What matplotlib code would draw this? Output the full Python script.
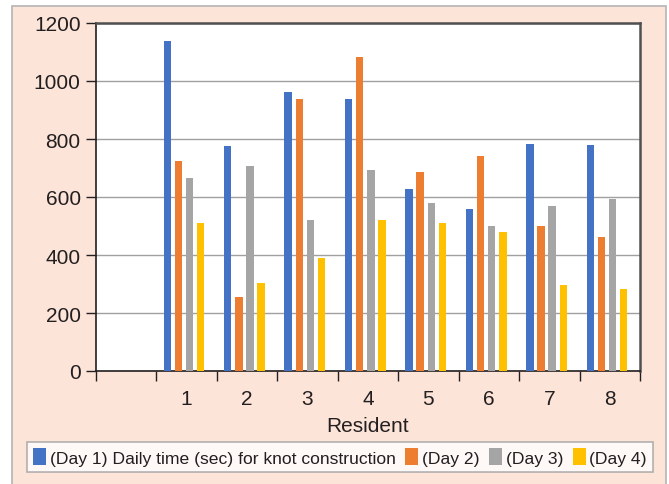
import numpy as np
import matplotlib.pyplot as plt
from matplotlib.patches import Rectangle

plt.rcParams['font.family'] = ['Liberation Sans', 'DejaVu Sans']

# data (first category is empty)
categories = ['', '1', '2', '3', '4', '5', '6', '7', '8']
day1 = [np.nan, 1137, 776, 961, 937, 626, 559, 784, 781]
day2 = [np.nan, 723, 254, 937, 1083, 687, 743, 500, 463]
day3 = [np.nan, 665, 707, 522, 693, 579, 500, 570, 593]
day4 = [np.nan, 510, 303, 390, 522, 510, 480, 298, 284]
labels = ['(Day 1) Daily time (sec) for knot construction', '(Day 2)', '(Day 3)', '(Day 4)']
colors = ['#4472C4', '#ED7D31', '#A5A5A5', '#FFC000']
yticks = [0, 200, 400, 600, 800, 1000, 1200]

fig = plt.figure(figsize=(6.69, 4.85), dpi=100)
fig.patch.set_facecolor('white')
# peach panel with grey border
fig.patches.append(Rectangle((12 / 669, -0.01), 654 / 669, 1 - 7 / 485 + 0.01,
                             transform=fig.transFigure, facecolor='#FCE4D8',
                             edgecolor='#B4B4B4', linewidth=1.2, zorder=-10))

ax = fig.add_axes([96 / 669, 113 / 485, 544 / 669, 348 / 485])
ax.set_facecolor('white')

x = np.arange(len(categories))
w = 0.124
step = 0.184
shift = -0.045
for i, (vals, c, lab) in enumerate(zip([day1, day2, day3, day4], colors, labels)):
    ax.bar(x + shift + (i - 1.5) * step, vals, width=w, color=c, label=lab,
           linewidth=0, zorder=3)

ax.set_xlim(-0.5, len(categories) - 0.5)
ax.set_ylim(0, 1200)
ax.set_yticks(yticks)
ax.grid(axis='y', color='#A0A0A0', linewidth=1.0, zorder=0)
ax.tick_params(axis='y', labelsize=15, length=7, width=1, pad=4, colors='#231F20')

# category boundaries as ticks, names in the middle
ax.set_xticks(np.arange(len(categories) + 1) - 0.5)
ax.set_xticklabels([])
ax.set_xticks(x, minor=True)
ax.set_xticklabels(categories, minor=True)
ax.tick_params(axis='x', which='major', length=7, width=1, color='#231F20')
ax.tick_params(axis='x', which='minor', length=0, labelsize=15, pad=13, labelcolor='#231F20')
ax.set_xlabel('Resident', fontsize=15, color='#231F20', labelpad=6)

for s in ['left', 'bottom']:
    ax.spines[s].set_color('#231F20')
    ax.spines[s].set_linewidth(1.2)
for s in ['top', 'right']:
    ax.spines[s].set_color('#505050')
    ax.spines[s].set_linewidth(1.8)

leg = fig.legend(loc='center', bbox_to_anchor=(340 / 669, 1 - 458 / 485), ncol=4,
                 fontsize=12.6, frameon=True, fancybox=False, handlelength=0.75,
                 handleheight=1.1, handletextpad=0.2, columnspacing=0.55,
                 borderpad=0.35, borderaxespad=0)
leg.get_frame().set_edgecolor('#A0A0A0')
leg.get_frame().set_linewidth(1.2)
for t in leg.get_texts():
    t.set_color('#231F20')

fig.savefig('out.png', dpi=100, facecolor=fig.get_facecolor())
